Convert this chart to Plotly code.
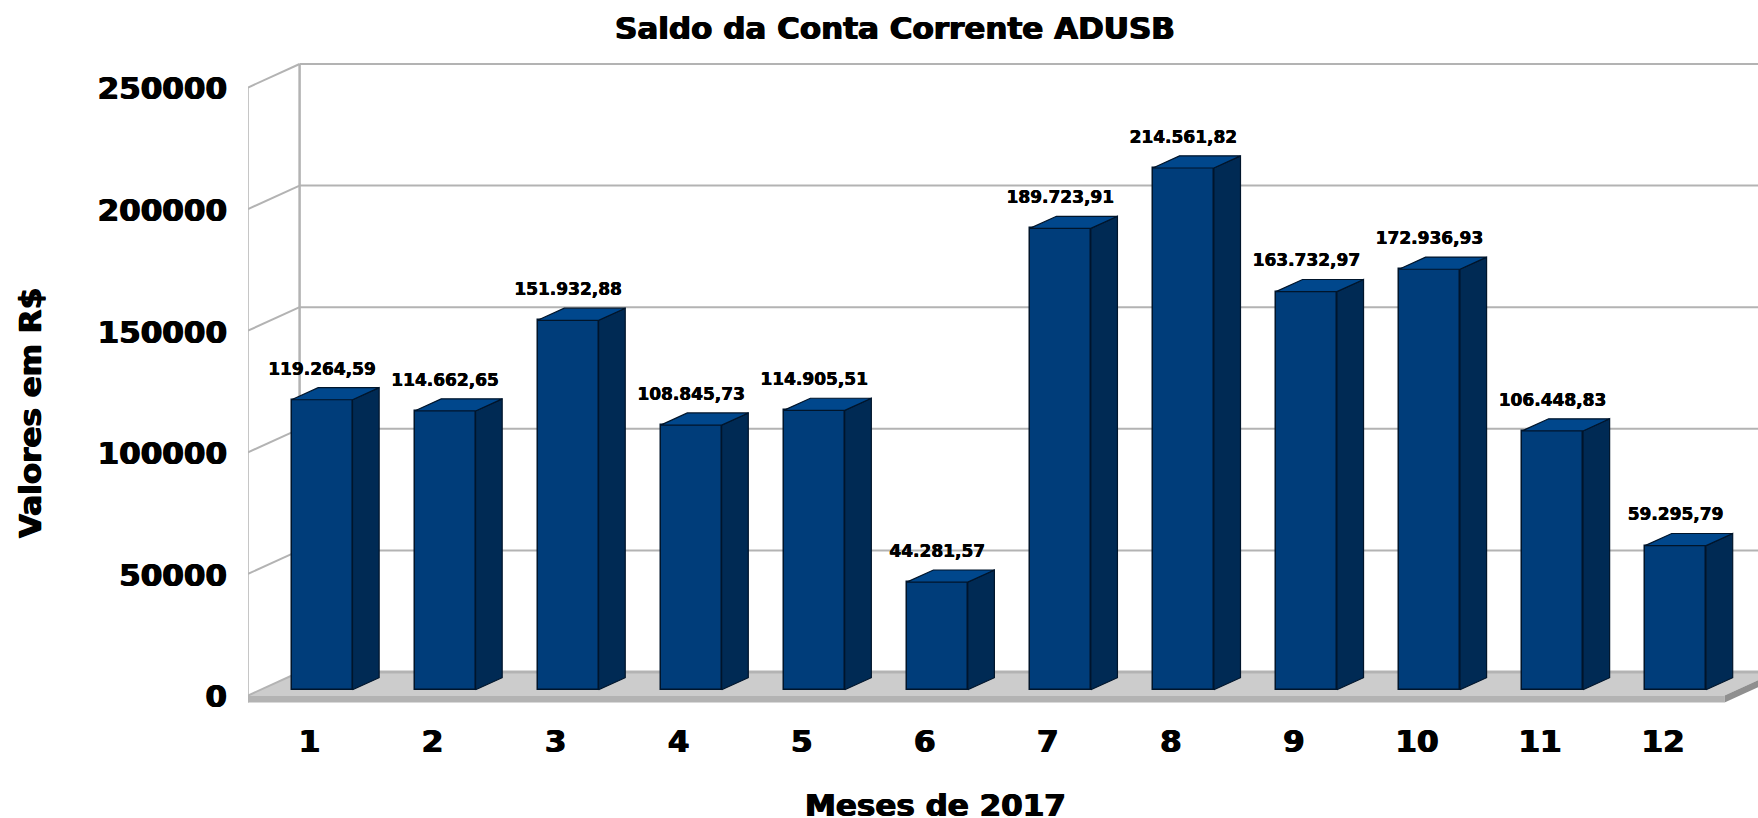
import plotly.graph_objects as go

months = list(range(1, 13))
values = [119264.59, 114662.65, 151932.88, 108845.73, 114905.51, 44281.57,
          189723.91, 214561.82, 163732.97, 172936.93, 106448.83, 59295.79]
labels = ["119.264,59", "114.662,65", "151.932,88", "108.845,73", "114.905,51", "44.281,57",
          "189.723,91", "214.561,82", "163.732,97", "172.936,93", "106.448,83", "59.295,79"]
y_ticks = [0, 50000, 100000, 150000, 200000, 250000]

W, H = 1758, 818
L, R, T, B = 248, 1758, 60, 704      # plot area in pixels
px_y = 121.6 / 50000                 # pixels per unit on the y axis
px_x = 123.05                        # pixels per category
DX = 51.6 / px_x                     # depth of the 3D box in x units
DY = 23.5 / px_y                     # depth of the 3D box in y units
SLAB = 7 / px_y
BAR_W = 61 / px_x
F0, F1 = 0.242, 0.758                # bar front / back as a share of the depth

x_range = [0.5, 0.5 + (R - L) / px_x]
y_range = [-(B - 695.5) / px_y, (695.5 - T) / px_y]
x_last = 12.5

GRID = "#b3b3b3"
FRONT, TOP, SIDE, EDGE = "#003d7a", "#00478c", "#002a54", "#00152b"
BOLD_BIG = "0.7px 0 0 black, -0.7px 0 0 black"
BOLD_SMALL = "0.3px 0 0 black, -0.3px 0 0 black"

shapes = []
def poly(points, fill, line=None, width=0):
    path = "M " + " L ".join(f"{a},{b}" for a, b in points) + " Z"
    shapes.append(dict(type="path", path=path, xref="x", yref="y", layer="below",
                       fillcolor=fill, line=dict(color=line or fill, width=width)))
def seg(x0, y0, x1, y1, width):
    shapes.append(dict(type="line", x0=x0, y0=y0, x1=x1, y1=y1, xref="x", yref="y",
                       layer="below", line=dict(color=GRID, width=width)))

# floor and slab
poly([(0.5, 0), (0.5 + DX, DY), (x_last + DX, DY), (x_last, 0)], "#cccccc")
poly([(0.5, 0), (x_last, 0), (x_last, -SLAB), (0.5, -SLAB)], "#b3b3b3")
poly([(x_last, 0), (x_last + DX, DY), (x_last + DX, DY - SLAB), (x_last, -SLAB)], "#8f8f8f")
# walls
seg(0.5, -SLAB, 0.5, y_ticks[-1], 1.5)
seg(0.5 + DX, DY, 0.5 + DX, y_ticks[-1] + DY, 2.5)
for v in y_ticks:
    seg(0.5, v, 0.5 + DX, v + DY, 2)
    seg(0.5 + DX, v + DY, x_last + DX, v + DY, 2 if v else 3)

front_x = [m + F0 * DX for m in months]
base = F0 * DY
right = [x + BAR_W / 2 for x in front_x]
left = [x - BAR_W / 2 for x in front_x]
d_x, d_y = (F1 - F0) * DX, (F1 - F0) * DY

side_x, side_y, top_x, top_y = [], [], [], []
for xl, xr, v in zip(left, right, values):
    t = base + v
    side_x += [xr, xr + d_x, xr + d_x, xr, xr, None]
    side_y += [base, base + d_y, t + d_y, t, base, None]
    top_x += [xl, xl + d_x, xr + d_x, xr, xl, None]
    top_y += [t, t + d_y, t + d_y, t, t, None]

fig = go.Figure()
fig.add_trace(go.Bar(x=front_x, y=values, base=base, width=BAR_W, showlegend=False,
                     marker=dict(color=FRONT, line=dict(color=EDGE, width=1.5)),
                     hovertemplate="%{customdata}<extra></extra>", customdata=labels))
fig.add_trace(go.Scatter(x=side_x, y=side_y, mode="lines", fill="toself", fillcolor=SIDE,
                         line=dict(color=EDGE, width=1.2), hoverinfo="skip", showlegend=False))
fig.add_trace(go.Scatter(x=top_x, y=top_y, mode="lines", fill="toself", fillcolor=TOP,
                         line=dict(color=EDGE, width=1.2), hoverinfo="skip", showlegend=False))
fig.add_trace(go.Scatter(x=front_x, y=[base + v + 29.5 / px_y for v in values], mode="text",
                         text=labels, textposition="middle center", hoverinfo="skip", showlegend=False,
                         textfont=dict(family="DejaVu Sans", size=17, color="black", weight="bold",
                                       shadow=BOLD_SMALL)))

def paper_x(p): return (p - L) / (R - L)
def paper_y(p): return (B - p) / (B - T)

tick_font = dict(family="DejaVu Sans", size=31, color="black", weight="bold", shadow=BOLD_BIG)
title_font = dict(family="DejaVu Sans", size=31, color="black", weight="bold", shadow=BOLD_BIG)
fig.update_layout(
    width=W, height=H, autosize=False,
    margin=dict(l=L, r=W - R, t=T, b=H - B, pad=0),
    paper_bgcolor="white", plot_bgcolor="white", bargap=0,
    shapes=shapes,
    title=dict(text="Saldo da Conta Corrente ADUSB", x=895 / W, xanchor="center",
               y=1 - 28 / H, yanchor="middle", font=title_font),
    xaxis=dict(range=x_range, tickmode="array", tickvals=months, ticktext=[str(m) for m in months],
               showgrid=False, zeroline=False, showline=False, ticks="", tickfont=tick_font,
               ticklabelstandoff=16),
    yaxis=dict(range=y_range, tickmode="array", tickvals=y_ticks, ticktext=[str(v) for v in y_ticks],
               showgrid=False, zeroline=False, showline=False, ticks="", tickfont=tick_font,
               ticklabelstandoff=20, ticklabelshift=1),
    annotations=[
        dict(text="Meses de 2017", xref="paper", yref="paper", x=paper_x(935), y=paper_y(805),
             showarrow=False, xanchor="center", yanchor="middle", font=title_font),
        dict(text="Valores em R$", xref="paper", yref="paper", x=paper_x(30), y=paper_y(413),
             showarrow=False, xanchor="center", yanchor="middle", textangle=-90, font=title_font),
    ],
)
fig.write_html("out.html", config={"displayModeBar": False},
               post_script="document.body.style.margin='0';document.body.style.overflow='hidden';")
